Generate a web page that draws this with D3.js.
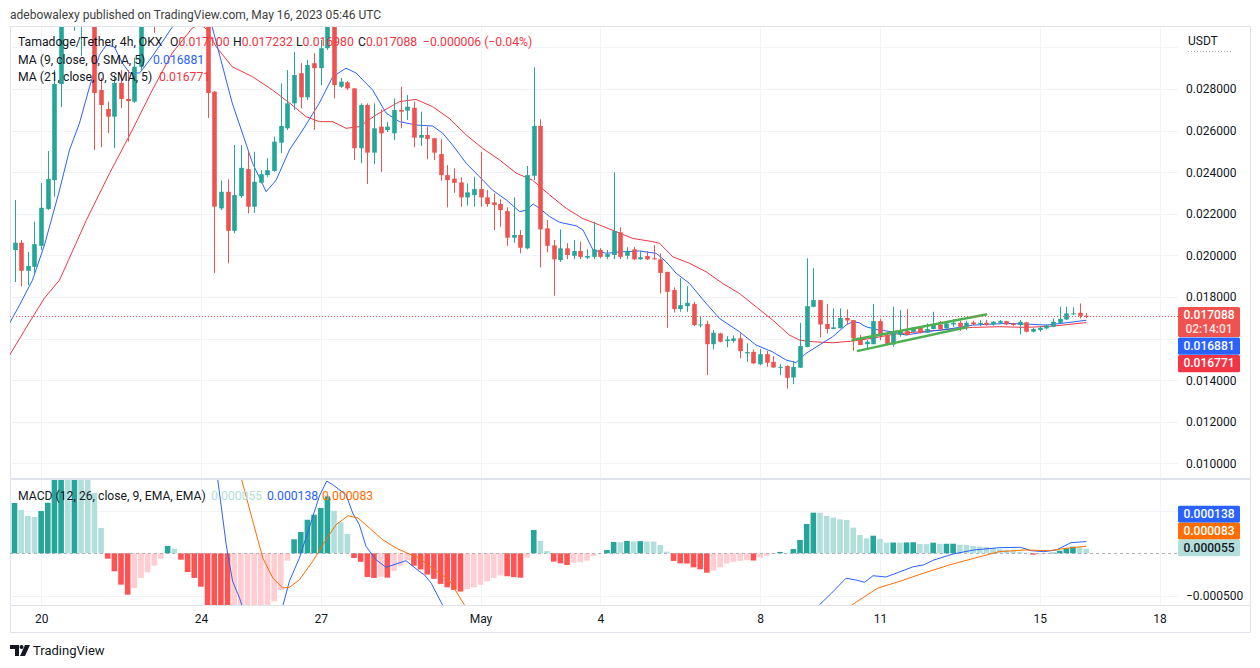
<!DOCTYPE html>
<html><head><meta charset="utf-8">
<script src="https://cdn.jsdelivr.net/npm/d3@7"></script>
<style>
html,body{margin:0;padding:0;background:#fff;}
svg{display:block;font-family:Roboto,"Noto Sans",sans-serif;}
</style></head><body>
<svg id="c" width="1260" height="668"></svg>
<script>
// ---------------- DATA ----------------
const startTime = "2023-04-19T08:00:00Z"; // first 4h candle
const opens = [0.02026,0.02061,0.01926,0.01945,0.02046,0.02223,0.02362,0.02824,0.0323,0.0312,0.0325,0.0328,0.0322,0.02795,0.02704,0.02667,0.02829,0.02752,0.02739,0.02907,0.0318,0.0328,0.0322,0.0331,0.0326,0.0334,0.0329,0.0333,0.0330,0.0334,0.02787,0.02226,0.02306,0.02118,0.02285,0.02415,0.02234,0.02349,0.02386,0.02406,0.02542,0.02611,0.02731,0.02876,0.0276,0.02924,0.029,0.02996,0.0312,0.02811,0.02832,0.02803,0.02515,0.02723,0.02494,0.02619,0.02603,0.02587,0.02699,0.02696,0.0271,0.02566,0.02579,0.02563,0.02487,0.02386,0.02369,0.02351,0.02279,0.0229,0.02319,0.02279,0.02255,0.02247,0.02213,0.02085,0.02098,0.02034,0.02383,0.02622,0.0213,0.02048,0.01978,0.02034,0.01998,0.02021,0.01989,0.01993,0.02026,0.01993,0.02002,0.02111,0.01998,0.02029,0.01981,0.01997,0.01986,0.01981,0.01921,0.01833,0.01742,0.01756,0.01766,0.01665,0.0167,0.01573,0.01625,0.01588,0.01589,0.01601,0.01529,0.01536,0.01477,0.01525,0.01488,0.0146,0.01468,0.01413,0.0146,0.0156,0.01753,0.01785,0.0167,0.01646,0.0165,0.01699,0.01689,0.01601,0.01573,0.01573,0.01684,0.01617,0.01572,0.01617,0.01636,0.01633,0.01652,0.01628,0.01646,0.01668,0.01649,0.01668,0.01676,0.01657,0.01678,0.01668,0.01676,0.01668,0.01676,0.01684,0.01673,0.01665,0.01678,0.01633,0.01641,0.01649,0.01657,0.01676,0.01692,0.01718,0.01724,0.0171];
const highs = [0.02266,0.02074,0.02017,0.02162,0.02348,0.02502,0.02891,0.0322,0.0328,0.0330,0.0334,0.0332,0.0325,0.02853,0.02739,0.02867,0.02891,0.02891,0.0295,0.0322,0.0333,0.0332,0.0336,0.0335,0.0339,0.0337,0.0336,0.0335,0.0337,0.0336,0.0279,0.0236,0.02366,0.02531,0.02531,0.02498,0.02498,0.0241,0.02467,0.02571,0.02827,0.02891,0.02979,0.02924,0.0294,0.02972,0.03036,0.0316,0.0315,0.02853,0.02838,0.02805,0.02731,0.02731,0.02731,0.02702,0.02641,0.02755,0.02811,0.02771,0.02739,0.02691,0.02619,0.02564,0.0256,0.02434,0.02419,0.02375,0.02346,0.02378,0.02498,0.02314,0.02298,0.02269,0.02231,0.02279,0.02122,0.0243,0.02904,0.02654,0.0217,0.02074,0.02125,0.02059,0.02074,0.02066,0.02029,0.02162,0.02035,0.02026,0.02399,0.02135,0.02039,0.0204,0.02022,0.02021,0.0205,0.0201,0.01921,0.01846,0.0189,0.01852,0.01776,0.01705,0.01686,0.01641,0.01628,0.01612,0.01615,0.01625,0.01577,0.01548,0.0155,0.01541,0.01516,0.01477,0.01472,0.01493,0.01676,0.01986,0.01938,0.01785,0.01766,0.01745,0.01745,0.0174,0.01689,0.01617,0.01593,0.01766,0.01697,0.01628,0.01753,0.01737,0.01742,0.01654,0.0166,0.01673,0.01729,0.01684,0.01684,0.01694,0.01686,0.01686,0.01686,0.01689,0.01689,0.01684,0.01689,0.01686,0.01676,0.01689,0.01681,0.01652,0.0166,0.01668,0.01697,0.01753,0.01753,0.0175,0.01769,0.017232];
const lows = [0.01872,0.01852,0.01857,0.01915,0.02026,0.02218,0.02282,0.02713,0.0310,0.0308,0.0296,0.0318,0.02507,0.0252,0.02588,0.02516,0.02709,0.02547,0.02733,0.0289,0.0315,0.0307,0.0319,0.0322,0.0323,0.0325,0.0326,0.0327,0.0328,0.02661,0.01915,0.02218,0.01962,0.02106,0.02276,0.02202,0.02205,0.02346,0.02378,0.02402,0.02491,0.02603,0.02699,0.02707,0.02747,0.02603,0.02819,0.02988,0.02755,0.02805,0.02795,0.02458,0.02443,0.02343,0.02439,0.02402,0.02593,0.02555,0.02611,0.02651,0.0252,0.02526,0.02462,0.02458,0.02359,0.02231,0.02301,0.02234,0.02239,0.02234,0.02234,0.02234,0.02122,0.02138,0.02046,0.02061,0.0201,0.02029,0.02362,0.01942,0.02015,0.01806,0.01969,0.01982,0.01982,0.01982,0.01982,0.01982,0.01986,0.01982,0.01982,0.01982,0.01982,0.01978,0.01978,0.01979,0.0198,0.01817,0.01652,0.01726,0.01729,0.01729,0.0166,0.01654,0.01424,0.01548,0.01582,0.01558,0.0158,0.01505,0.01488,0.01477,0.01472,0.01464,0.0146,0.01424,0.0136,0.01381,0.0146,0.01558,0.0175,0.01606,0.01625,0.01646,0.01649,0.01665,0.01541,0.01569,0.01548,0.01573,0.01593,0.01569,0.01561,0.01609,0.01617,0.01633,0.01625,0.01628,0.01644,0.01641,0.01644,0.01657,0.01637,0.01641,0.01665,0.0166,0.01662,0.01662,0.01673,0.01665,0.01662,0.0162,0.0163,0.0163,0.01633,0.01644,0.01654,0.01676,0.01689,0.01713,0.01697,0.01698];
const closes = [0.02061,0.01926,0.01949,0.02054,0.02229,0.02367,0.02824,0.0318,0.0312,0.0325,0.0328,0.0322,0.02781,0.02723,0.02667,0.02829,0.02752,0.02742,0.02907,0.0318,0.0328,0.0322,0.0331,0.0326,0.0334,0.0329,0.0333,0.0330,0.0334,0.02781,0.02234,0.02306,0.02118,0.0229,0.02421,0.02234,0.02354,0.0239,0.0241,0.02547,0.02622,0.02731,0.02867,0.0276,0.02915,0.029,0.02996,0.0312,0.02819,0.02835,0.02803,0.02515,0.02723,0.02494,0.02611,0.02587,0.02619,0.02699,0.02691,0.02715,0.02566,0.02579,0.0256,0.02494,0.02386,0.02362,0.02349,0.02279,0.02303,0.02319,0.02279,0.02247,0.02242,0.02218,0.02085,0.02098,0.02037,0.02386,0.02622,0.02125,0.02046,0.01981,0.02034,0.02002,0.02021,0.01993,0.01997,0.02029,0.01993,0.02006,0.02117,0.01993,0.02022,0.01981,0.01991,0.01981,0.01981,0.01916,0.01825,0.01742,0.01761,0.01772,0.01665,0.01668,0.01573,0.01628,0.01585,0.01596,0.01601,0.0154,0.01535,0.01481,0.01525,0.01484,0.01461,0.01464,0.01411,0.01464,0.01564,0.01756,0.01785,0.01668,0.01646,0.01654,0.01699,0.01687,0.01601,0.01569,0.01585,0.01684,0.01614,0.01572,0.01636,0.01633,0.01617,0.01652,0.01628,0.01646,0.01665,0.01646,0.01673,0.01676,0.01657,0.01676,0.01668,0.01676,0.01665,0.01681,0.01684,0.01668,0.01665,0.01681,0.01633,0.01646,0.01652,0.01662,0.01681,0.01694,0.01721,0.01721,0.017094,0.017088];

// moving averages: [candle index, value] vertices
const ma9 = [[-0.75,0.01674],[0.75,0.01761],[2.7,0.01881],[4.5,0.0205],[6.76,0.02314],[8.26,0.02507],[9.76,0.02636],[11.27,0.0281],[12.77,0.02964],[13.8,0.03012],[15.0,0.03002],[16.2,0.02925],[17.3,0.02877],[18.8,0.02877],[20.3,0.02939],[22.2,0.03026],[23.7,0.03098],[25.5,0.0318],[27,0.0320],[28.5,0.0317],[29.7,0.03098],[32.7,0.02733],[35.75,0.02444],[37.8,0.02306],[39.3,0.02362],[41.3,0.02507],[43.3,0.02603],[45.8,0.02733],[47.8,0.02859],[49.8,0.029],[51.3,0.02877],[53.8,0.02795],[55.8,0.02685],[57.8,0.02643],[60.3,0.02627],[62.8,0.02622],[64.3,0.02588],[65.8,0.02531],[67.85,0.02443],[69.85,0.02378],[71.8,0.02314],[73.9,0.02266],[75.9,0.0221],[76.9,0.02218],[77.9,0.02247],[78.9,0.02226],[80.4,0.02186],[81.9,0.02159],[84.4,0.02142],[85.4,0.02122],[86.9,0.02026],[88.9,0.0201],[90.9,0.02017],[93.9,0.02021],[96.4,0.0201],[97.9,0.01969],[99.4,0.01914],[101.4,0.01865],[103.9,0.01769],[105.9,0.01697],[108.9,0.01633],[111.4,0.01569],[113.9,0.01536],[115.9,0.01497],[117.4,0.01485],[118.9,0.01529],[120.9,0.01569],[122.9,0.01609],[124.9,0.01665],[125.9,0.01681],[126.9,0.01676],[127.9,0.01657],[129.9,0.01641],[131.9,0.01633],[133.9,0.01617],[136.95,0.01633],[139.95,0.01644],[143.95,0.01665],[148.97,0.01673],[151.97,0.0167],[154.98,0.01665],[157.98,0.01676],[161,0.016881]];
const ma21 = [[-0.75,0.0152],[2.25,0.01679],[4.5,0.01795],[6.76,0.01881],[10.8,0.0217],[14.3,0.02396],[17.7,0.02603],[20.7,0.02795],[23.7,0.02973],[26.7,0.03093],[27.8,0.03113],[28.8,0.03089],[30.3,0.03003],[32.7,0.02907],[35.75,0.02859],[38.76,0.02795],[41.3,0.02733],[43.8,0.02667],[45.8,0.02643],[47.8,0.02643],[49.8,0.02611],[51.8,0.02619],[54.3,0.02675],[57.8,0.02739],[60.3,0.0275],[62.8,0.02715],[65.3,0.02659],[67.85,0.02579],[70.3,0.02515],[72.9,0.02458],[75.4,0.02395],[77.8,0.02362],[80.4,0.0229],[82.9,0.02226],[85.3,0.02178],[87.9,0.02146],[90.4,0.02114],[92.8,0.02082],[95.9,0.02066],[96.9,0.02058],[98.9,0.01993],[101.4,0.01962],[103.9,0.01921],[106.4,0.01865],[108.9,0.01817],[111.4,0.01753],[113.9,0.01689],[116.4,0.01617],[117.9,0.01593],[119.9,0.01585],[122.9,0.0158],[125.9,0.01588],[128.9,0.01602],[131.9,0.0162],[134.9,0.0163],[138.95,0.01641],[143.95,0.01654],[147.96,0.01657],[151.97,0.01654],[155.97,0.0166],[161,0.016771]];

// MACD histogram per candle
const hist = [0.000592,0.00051,0.000439,0.000427,0.000498,0.000595,0.0009,0.00105,0.001,0.00108,0.001,0.00092,0.00071,0.000298,-0.000063,-0.000212,-0.000369,-0.000487,-0.000408,-0.00029,-0.000224,-0.000146,-0.000063,0.000086,0.000054,-0.000075,-0.00022,-0.00029,-0.000393,-0.0007,-0.0009,-0.00105,-0.0011,-0.00105,-0.001,-0.00092,-0.00082,-0.0007,-0.00062,-0.000565,-0.000432,-0.000087,0.000165,0.00025,0.000395,0.000454,0.000533,0.00067,0.0005,0.000365,0.000227,-0.000055,-0.0001,-0.000279,-0.00029,-0.000275,-0.000287,-0.000208,-0.000146,-0.00008,-0.000146,-0.00019,-0.00025,-0.0003,-0.00036,-0.0004,-0.00043,-0.00045,-0.00042,-0.0004,-0.00037,-0.00033,-0.00029,-0.00026,-0.00027,-0.00028,-0.000287,-0.00005,0.000274,0.000145,0.000027,-0.000098,-0.000118,-0.000137,-0.00011,-0.000105,-0.000087,-0.000031,-0.000005,0.000039,0.000133,0.00013,0.000145,0.00014,0.000143,0.00014,0.000138,0.000098,0.000019,-0.00009,-0.000118,-0.00012,-0.000165,-0.000188,-0.000228,-0.000204,-0.000165,-0.00012,-0.0001,-0.00009,-0.00008,-0.000085,-0.00005,-0.000031,-0.000007,0.000016,0.000005,0.00005,0.000157,0.000345,0.000478,0.000477,0.000439,0.00042,0.0004,0.000392,0.000302,0.000215,0.000176,0.000207,0.000168,0.000125,0.000127,0.000126,0.000128,0.00013,0.00011,0.000108,0.000125,0.00011,0.000112,0.000113,0.0001,0.000098,0.000086,0.00008,0.000074,0.000063,0.00005,0.00004,0.000031,0.000018,0.000008,-0.000016,-0.000014,-0.000008,0.000008,0.00003,0.00006,0.000078,0.00007,0.000055];
// MACD and signal lines: [candle index, value]
const macdLine = [[27.8,0.00133],[30.5,0.000886],[31.8,0.000101],[32.75,-0.000326],[33.8,-0.000526],[34.2,-0.00062],[35.3,-0.00078],[37.6,-0.00084],[40.3,-0.00062],[41.3,-0.000326],[42.8,-0.000055],[44.6,0.00038],[45.8,0.000674],[46.9,0.00085],[47.8,0.000807],[49.8,0.000689],[50.8,0.000474],[51.8,0.000336],[52.8,0.000082],[54.3,-0.000075],[55.8,-0.000165],[57.3,-0.000126],[58.8,-0.000087],[60.8,-0.000212],[61.6,-0.000255],[62.6,-0.000353],[64.3,-0.000608],[68.3,-0.00102],[87.9,-0.0017],[115,-0.00125],[119.7,-0.00072],[120.9,-0.000608],[122.7,-0.000471],[124.9,-0.000294],[126.4,-0.000314],[127.7,-0.000341],[128.96,-0.000264],[130.9,-0.000279],[132.8,-0.000224],[135,-0.000158],[136.5,-0.000138],[138.1,-0.000079],[141,-0.000008],[144.1,0.000039],[147.9,0.000066],[151.1,0.000071],[152.7,0.000031],[154.6,0.000019],[156.5,0.000039],[158.7,0.000125],[161,0.000138]];
const signalLine = [[31.5,0.00133],[34.05,0.000886],[35.8,0.000376],[37.3,-0.000055],[38.8,-0.000291],[40.3,-0.000408],[41.3,-0.0004],[42.8,-0.000311],[44.8,-0.000094],[46.8,0.00016],[48.3,0.000336],[50.1,0.000442],[51.6,0.000415],[53.3,0.000298],[55.3,0.00016],[57.3,0.000062],[59.3,-0.000008],[60.8,-0.000055],[62.1,-0.000138],[65.3,-0.000314],[67.4,-0.000585],[68.3,-0.00069],[87.9,-0.0016],[115,-0.0015],[124,-0.00078],[125.8,-0.000608],[129.6,-0.000412],[132.8,-0.000334],[136.5,-0.000235],[140.4,-0.000138],[144.1,-0.000059],[147.9,0.000019],[151.7,0.000039],[155.5,0.000031],[158,0.000059],[161,0.000083]];

// drawn trend lines (green): [[idx,price],[idx,price]]
const trendLines = [[[125.9,0.01593],[145.96,0.01716]],[[126.7,0.01541],[143,0.01655]]];

// axis ticks
const dateTicks = ["2023-04-20","2023-04-24","2023-04-27","2023-05-01","2023-05-04","2023-05-08","2023-05-11","2023-05-15","2023-05-18"];
const priceGrid = [0.010,0.012,0.014,0.016,0.018,0.020,0.022,0.024,0.026,0.028,0.030];
const priceLabels = [0.010,0.012,0.014,0.018,0.020,0.022,0.024,0.026,0.028];
const macdGrid = [-0.0005,0.0005];
const macdLabels = [-0.0005];
const countdown = "02:14:01";

// ---------------- LAYOUT ----------------
const paneL = 10, paneR = 1178, priceTop = 27, priceBot = 478, macdTop = 480, macdBot = 605;
const UP = "#26a69a", DN = "#ef5350", TXT = "#131722", GRID = "#f0f3fa", BORDER = "#e0e3eb";
const LEGFS = "12.2px";
const t0 = Date.parse(startTime), H4 = 4 * 3600 * 1000;
const dateOf = i => new Date(t0 + i * H4);

const svg = d3.select("#c");
const x = d3.scaleUtc().domain([new Date(Date.UTC(2023, 4, 1)), new Date(Date.UTC(2023, 4, 18))]).range([480.5, 1159.5]);
const y = d3.scaleLinear().domain([0.010, 0.028]).range([463.4, 89]);
const ym = d3.scaleLinear().domain([-0.0005, 0.0005]).range([595.8, 510.8]);

const defs = svg.append("defs");
defs.append("clipPath").attr("id", "cp").append("rect").attr("x", paneL).attr("y", priceTop).attr("width", paneR - paneL).attr("height", priceBot - priceTop);
defs.append("clipPath").attr("id", "cm").append("rect").attr("x", paneL).attr("y", macdTop).attr("width", paneR - paneL).attr("height", macdBot - macdTop);

// header
svg.append("text").attr("x", 10).attr("y", 18.5).attr("fill", "#3d3d3d").style("font-size", "12px")
  .text("adebowalexy published on TradingView.com, May 16, 2023 05:46 UTC");

// outer frame
svg.append("rect").attr("x", 10.5).attr("y", 26.5).attr("width", 1240).attr("height", 606).attr("fill", "none").attr("stroke", BORDER);

// grids
const tickDates = dateTicks.map(d => new Date(d + "T00:00:00Z"));
const gP = svg.append("g").attr("clip-path", "url(#cp)");
const gM = svg.append("g").attr("clip-path", "url(#cm)");
[gP, gM].forEach((g, k) => {
  g.selectAll("line.vg").data(tickDates).join("line").attr("class", "vg")
    .attr("x1", d => Math.round(x(d)) + 0.5).attr("x2", d => Math.round(x(d)) + 0.5)
    .attr("y1", k ? macdTop : priceTop).attr("y2", k ? macdBot : priceBot).attr("stroke", GRID);
});
gP.selectAll("line.hg").data(priceGrid).join("line").attr("class", "hg")
  .attr("x1", paneL).attr("x2", paneR).attr("y1", d => Math.round(y(d)) + 0.5).attr("y2", d => Math.round(y(d)) + 0.5).attr("stroke", GRID);
gM.selectAll("line.hg").data(macdGrid).join("line").attr("class", "hg")
  .attr("x1", paneL).attr("x2", paneR).attr("y1", d => Math.round(ym(d)) + 0.5).attr("y2", d => Math.round(ym(d)) + 0.5).attr("stroke", GRID);

// pane separators
svg.append("line").attr("x1", paneL).attr("x2", 1250).attr("y1", 479).attr("y2", 479).attr("stroke", BORDER).attr("stroke-width", 2);
svg.append("line").attr("x1", paneL).attr("x2", 1250).attr("y1", macdBot + 0.5).attr("y2", macdBot + 0.5).attr("stroke", BORDER);

// MA lines
const lineP = d3.line().x(d => x(dateOf(d[0]))).y(d => y(d[1]));
gP.append("path").attr("d", lineP(ma21)).attr("fill", "none").attr("stroke", "#f23645").attr("stroke-width", 1);
gP.append("path").attr("d", lineP(ma9)).attr("fill", "none").attr("stroke", "#2962ff").attr("stroke-width", 1);

// candles
const idx = d3.range(closes.length);
gP.selectAll("line.wick").data(idx).join("line").attr("class", "wick")
  .attr("x1", i => Math.round(x(dateOf(i))) + 0.5).attr("x2", i => Math.round(x(dateOf(i))) + 0.5)
  .attr("y1", i => y(highs[i])).attr("y2", i => y(lows[i]))
  .attr("stroke", i => closes[i] >= opens[i] ? UP : DN).attr("stroke-width", 1);
gP.selectAll("rect.body").data(idx).join("rect").attr("class", "body")
  .attr("x", i => Math.round(x(dateOf(i))) + 0.5 - 2.3).attr("width", 4.6)
  .attr("y", i => y(Math.max(opens[i], closes[i])))
  .attr("height", i => Math.max(1, Math.abs(y(opens[i]) - y(closes[i]))))
  .attr("fill", i => closes[i] >= opens[i] ? UP : DN);

// trend lines
gP.selectAll("line.tl").data(trendLines).join("line").attr("class", "tl")
  .attr("x1", d => x(dateOf(d[0][0]))).attr("y1", d => y(d[0][1]))
  .attr("x2", d => x(dateOf(d[1][0]))).attr("y2", d => y(d[1][1]))
  .attr("stroke", "#4caf50").attr("stroke-width", 2.5).attr("stroke-linecap", "round");

// last price dotted line
const last = closes.length - 1;
const lastY = Math.round(y(closes[last])) + 0.5;
gP.append("line").attr("x1", paneL).attr("x2", paneR).attr("y1", lastY).attr("y2", lastY)
  .attr("stroke", DN).attr("stroke-dasharray", "1,2");

// MACD histogram
gM.selectAll("rect.h").data(idx).join("rect").attr("class", "h")
  .attr("x", i => x(dateOf(i)) - 2.8).attr("width", 5.6)
  .attr("y", i => Math.min(ym(0), ym(hist[i]))).attr("height", i => Math.abs(ym(hist[i]) - ym(0)))
  .attr("fill", i => {
    const h = hist[i], p = i ? hist[i - 1] : 0;
    return h >= 0 ? (p < h ? "#26a69a" : "#b2dfdb") : (p < h ? "#ffcdd2" : "#ff5252");
  });
gM.append("line").attr("x1", paneL).attr("x2", paneR).attr("y1", Math.round(ym(0)) + 0.5).attr("y2", Math.round(ym(0)) + 0.5)
  .attr("stroke", "#9598a1").attr("stroke-dasharray", "3,3").attr("opacity", 0.7);
const lineM = d3.line().x(d => x(dateOf(d[0]))).y(d => ym(d[1]));
gM.append("path").attr("d", lineM(macdLine)).attr("fill", "none").attr("stroke", "#2962ff").attr("stroke-width", 1);
gM.append("path").attr("d", lineM(signalLine)).attr("fill", "none").attr("stroke", "#ff6d00").attr("stroke-width", 1);

// axes
const fmt6 = d3.format(".6f");
const ax = svg.append("g").attr("transform", `translate(${paneR},0)`)
  .call(d3.axisRight(y).tickValues(priceLabels).tickFormat(fmt6).tickSize(0).tickPadding(8));
ax.select(".domain").remove();
ax.selectAll("text").attr("fill", TXT).style("font-size", "12px").style("font-family", "Roboto,sans-serif");
const axm = svg.append("g").attr("transform", `translate(${paneR},0)`)
  .call(d3.axisRight(ym).tickValues(macdLabels).tickFormat(fmt6).tickSize(0).tickPadding(8));
axm.select(".domain").remove();
axm.selectAll("text").attr("fill", TXT).style("font-size", "12px").style("font-family", "Roboto,sans-serif");
const axb = svg.append("g").attr("transform", "translate(0,614.5)")
  .call(d3.axisBottom(x).tickValues(tickDates).tickSize(0).tickPadding(0)
    .tickFormat(d => d.getUTCDate() === 1 ? d3.utcFormat("%b")(d) : d3.utcFormat("%-d")(d)));
axb.select(".domain").remove();
axb.selectAll("text").attr("fill", TXT).style("font-size", "12px").style("font-family", "Roboto,sans-serif");

// USDT label
svg.append("text").attr("x", 1188).attr("y", 45).attr("fill", TXT).style("font-size", "12px").text("USDT");
svg.append("line").attr("x1", 1188).attr("x2", 1233).attr("y1", 51.5).attr("y2", 51.5).attr("stroke", "#b2b5be").attr("stroke-dasharray", "1,2");

// price labels (stacked boxes)
function box(yTop, h, fill, lines, tcol) {
  svg.append("rect").attr("x", 1178).attr("y", yTop).attr("width", 62).attr("height", h).attr("rx", 1.5).attr("fill", fill);
  lines.forEach((l, k) => svg.append("text").attr("x", 1209).attr("y", yTop + 12.5 + k * 14).attr("text-anchor", "middle")
    .attr("fill", l[1] || tcol).style("font-size", "12px").style("font-weight", "500").text(l[0]));
}
const ma9Last = ma9[ma9.length - 1][1], ma21Last = ma21[ma21.length - 1][1];
const b1Top = y(closes[last]) - 9;
box(b1Top, 30, "#ef5350", [[fmt6(closes[last])], [countdown, "#fde0e0"]], "#fff");
box(b1Top + 30.5, 17.3, "#2962ff", [[fmt6(ma9Last)]], "#fff");
box(b1Top + 48, 17.3, "#f23645", [[fmt6(ma21Last)]], "#fff");

const hLast = hist[last], mLast = macdLine[macdLine.length - 1][1], sLast = signalLine[signalLine.length - 1][1];
const m3Top = ym(hLast) - 9.5;
box(m3Top, 17, "#b2dfdb", [[fmt6(hLast)]], TXT);
box(m3Top - 16.7, 16.7, "#ff6d00", [[fmt6(sLast)]], "#fff");
box(m3Top - 33.4, 16.7, "#2962ff", [[fmt6(mLast)]], "#fff");

// legends
const fmtS = v => (v < 0 ? "\u2212" : "") + d3.format(".6f")(Math.abs(v));
const chg = closes[last] - closes[last - 1];
const pct = chg / closes[last - 1] * 100;
function legendText(xp, yp, parts) {
  const t = svg.append("text").attr("x", xp).attr("y", yp).style("font-size", LEGFS);
  parts.forEach(p => t.append("tspan").attr("fill", p[1]).text(p[0]));
}
legendText(18, 46, [["Tamadoge/Tether, 4h, OKX", TXT]]);
legendText(170, 46, [["O", TXT], [fmt6(opens[last]), "#f23645"]]);
legendText(233, 46, [["H", TXT], [fmt6(highs[last]), "#f23645"]]);
legendText(296, 46, [["L", TXT], [fmt6(lows[last]), "#f23645"]]);
legendText(358, 46, [["C", TXT], [fmt6(closes[last]), "#f23645"]]);
legendText(423, 46, [[fmtS(chg) + " (" + (pct < 0 ? "\u2212" : "") + Math.abs(pct).toFixed(2) + "%)", "#f23645"]]);
legendText(18, 63.5, [["MA (9, close, 0, SMA, 5)", TXT]]);
legendText(153, 63.5, [[fmt6(ma9Last), "#2962ff"]]);
legendText(18, 81, [["MA (21, close, 0, SMA, 5)", TXT]]);
legendText(159, 81, [[fmt6(ma21Last), "#f23645"]]);
legendText(18, 499.5, [["MACD (12, 26, close, 9, EMA, EMA)", TXT]]);
legendText(211, 499.5, [[fmt6(hLast), "#b2dfdb"]]);
legendText(267, 499.5, [[fmt6(mLast), "#2962ff"]]);
legendText(322, 499.5, [[fmt6(sLast), "#ff6d00"]]);

// footer logo
const lg = svg.append("g").attr("fill", TXT);
lg.append("path").attr("d", "M10 645h9v11h-4v-7h-5z");
lg.append("circle").attr("cx", 21.5).attr("cy", 647).attr("r", 2);
lg.append("path").attr("d", "M25 645h5l-5 11h-5z");
svg.append("text").attr("x", 33).attr("y", 655).attr("fill", TXT).style("font-size", "13px").text("TradingView");
</script>
</body></html>
